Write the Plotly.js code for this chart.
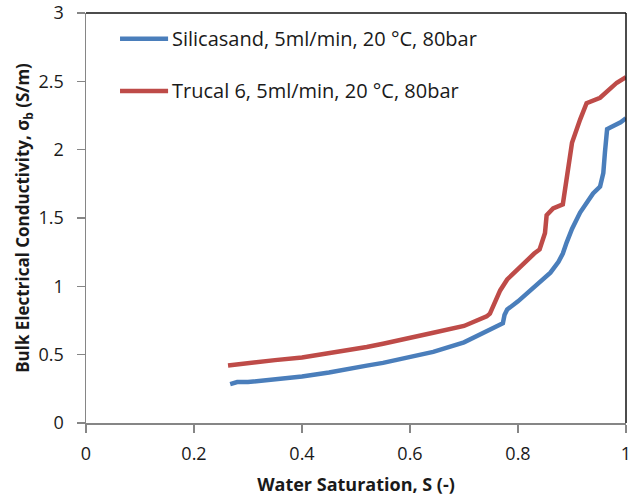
<!DOCTYPE html>
<html>
<head>
<meta charset="utf-8">
<script src="https://cdn.plot.ly/plotly-3.0.1.min.js"></script>
<style>html,body{margin:0;padding:0;background:#fff;}#chart{width:632px;height:502px;}</style>
</head>
<body>
<div id="chart"></div>
<script>
const silicaName = "Silicasand, 5ml/min, 20 °C, 80bar";
const trucalName = "Trucal 6, 5ml/min, 20 °C, 80bar";

const silicaX = [0.267, 0.28, 0.30, 0.35, 0.40, 0.45, 0.50, 0.52, 0.55, 0.60, 0.643, 0.70, 0.748, 0.765, 0.772, 0.775, 0.78, 0.80, 0.82, 0.84, 0.86, 0.875, 0.883, 0.89, 0.90, 0.915, 0.93, 0.939, 0.952, 0.958, 0.961, 0.965, 0.970, 0.98, 0.99, 1.0];
const silicaY = [0.285, 0.30, 0.30, 0.32, 0.34, 0.37, 0.40, 0.42, 0.44, 0.48, 0.52, 0.59, 0.68, 0.71, 0.73, 0.79, 0.83, 0.89, 0.96, 1.03, 1.10, 1.18, 1.24, 1.32, 1.42, 1.54, 1.62, 1.68, 1.73, 1.83, 1.98, 2.15, 2.16, 2.18, 2.20, 2.23];

const trucalX = [0.263, 0.30, 0.35, 0.40, 0.45, 0.50, 0.52, 0.55, 0.60, 0.643, 0.70, 0.742, 0.748, 0.767, 0.78, 0.80, 0.83, 0.84, 0.85, 0.853, 0.865, 0.883, 0.887, 0.89, 0.90, 0.915, 0.927, 0.952, 0.97, 0.983, 1.0];
const trucalY = [0.42, 0.44, 0.46, 0.48, 0.51, 0.54, 0.556, 0.58, 0.62, 0.66, 0.71, 0.78, 0.80, 0.97, 1.05, 1.13, 1.24, 1.27, 1.39, 1.52, 1.57, 1.60, 1.70, 1.79, 2.05, 2.22, 2.34, 2.38, 2.44, 2.49, 2.53];

const xTicks = [0, 0.2, 0.4, 0.6, 0.8, 1];
const xTickLabels = ["0", "0.2", "0.4", "0.6", "0.8", "1"];
const yTicks = [0, 0.5, 1, 1.5, 2, 2.5, 3];
const yTickLabels = ["0", "0.5", "1", "1.5", "2", "2.5", "3"];

const seriesNames = [silicaName, trucalName];
const seriesColors = ["#4A7EBB", "#BE4B48"];

const font = "'Open Sans', 'Noto Sans', sans-serif";
const txt = "#1a1a1a";

const traces = [
  {x: silicaX, y: silicaY, name: silicaName, type: "scatter", mode: "lines",
   line: {color: seriesColors[0], width: 4.5}},
  {x: trucalX, y: trucalY, name: trucalName, type: "scatter", mode: "lines",
   line: {color: seriesColors[1], width: 4.5}}
];

// manual legend (line sample + label), placed in paper coordinates
const legY = [0.937, 0.810];
const legendShapes = seriesNames.map((n, i) => ({
  type: "line", xref: "paper", yref: "paper",
  x0: 0.063, x1: 0.152, y0: legY[i], y1: legY[i],
  line: {color: seriesColors[i], width: 4.5}
}));
const legendAnnots = seriesNames.map((n, i) => ({
  text: n, xref: "paper", yref: "paper", x: 0.155, y: legY[i],
  xanchor: "left", yanchor: "middle", showarrow: false,
  font: {family: font, size: 20, color: txt}
}));

const layout = {
  width: 632, height: 502,
  margin: {l: 86, r: 6, t: 13, b: 79},
  paper_bgcolor: "#fff", plot_bgcolor: "#fff",
  font: {family: font, size: 18, color: txt},
  showlegend: false,
  xaxis: {range: [0, 1], tickvals: xTicks, ticktext: xTickLabels,
          showgrid: false, zeroline: false, showline: true, linecolor: "#868686", linewidth: 1.5,
          ticks: "outside", ticklen: 8, tickcolor: "#868686", tickwidth: 1.5,
          ticklabelstandoff: 6,
          tickfont: {family: font, size: 18, color: txt},
          title: {text: "<b>Water Saturation, S (-)</b>", font: {family: font, size: 18, color: txt}, standoff: 14}},
  yaxis: {range: [0, 3], tickvals: yTicks, ticktext: yTickLabels,
          showgrid: false, zeroline: false, showline: true, linecolor: "#868686", linewidth: 1.5,
          ticks: "outside", ticklen: 8, tickcolor: "#868686", tickwidth: 1.5,
          ticklabelstandoff: 9,
          tickfont: {family: font, size: 18, color: txt},
          title: {text: "<b>Bulk Electrical Conductivity, σ<sub>b</sub> (S/m)</b>", font: {family: font, size: 17, color: txt}, standoff: 4}},
  shapes: [
    {type: "line", xref: "paper", yref: "paper", x0: 0, x1: 1, y0: 1, y1: 1, line: {color: "#111", width: 1.5}},
    {type: "line", xref: "paper", yref: "paper", x0: 1, x1: 1, y0: 0, y1: 1, line: {color: "#111", width: 1.5}}
  ].concat(legendShapes),
  annotations: legendAnnots
};

Plotly.newPlot("chart", traces, layout, {displayModeBar: false, staticPlot: true});
</script>
</body>
</html>
